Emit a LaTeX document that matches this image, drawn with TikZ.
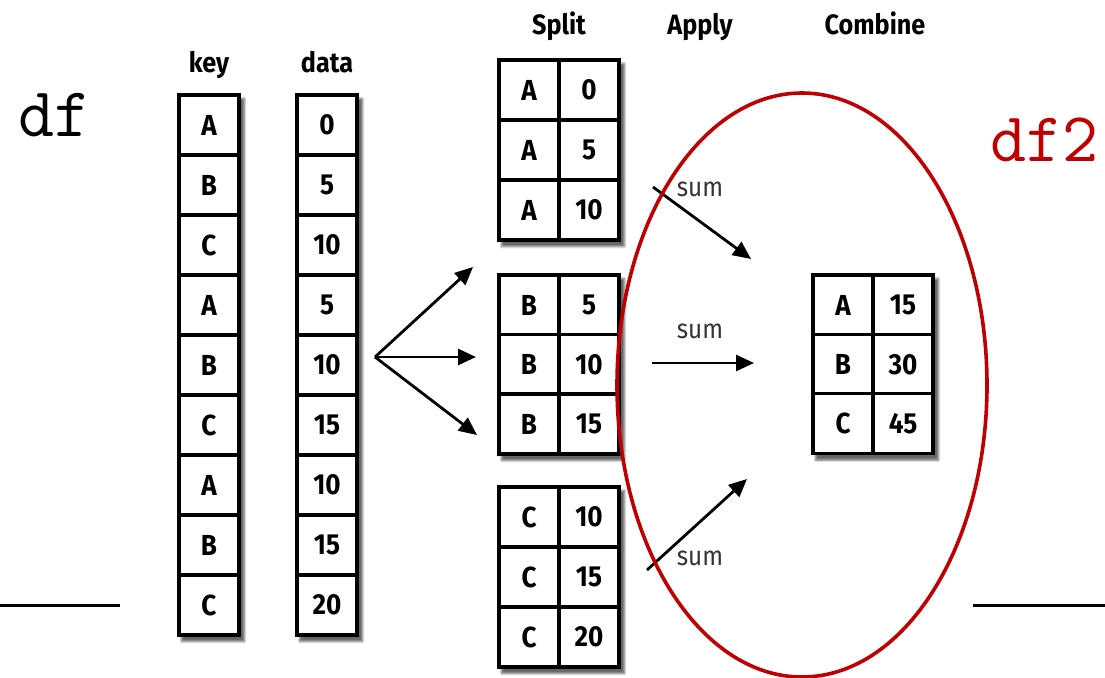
\documentclass[tikz,border=0pt]{standalone}
\usepackage{fontspec}
\setmainfont{Fira Sans}
\newfontfamily\condfam[FakeStretch=0.9]{Fira Sans}
\usetikzlibrary{arrows.meta,shadows.blur,backgrounds,fit}
\definecolor{dfred}{HTML}{C00000}
\tikzset{
  cell/.style={draw, line width=3.2pt, minimum width=60pt, minimum height=60pt, inner sep=0pt, fill=white,
    font=\condfam\fontsize{29}{30}\selectfont\bfseries},
  hdr/.style={anchor=base, inner sep=0pt, font=\condfam\fontsize{28}{30}\selectfont\bfseries},
  sumlbl/.style={anchor=base, inner sep=0pt, font=\condfam\fontsize{27}{30}\selectfont, text=black!80},
  arr/.style={line width=2.8pt, -{Triangle[length=18pt,width=16pt]}},
  tshadow/.style={inner sep=0pt, fill=white, blur shadow={shadow xshift=4pt, shadow yshift=-5pt, shadow blur steps=6, shadow opacity=60}},
  dflbl/.style={anchor=base west, inner sep=0pt, font=\ttfamily\fontsize{70}{70}\selectfont},
  rule/.style={line width=3pt},
}
\begin{document}
\begin{tikzpicture}[x=1pt,y=-1pt]
\useasboundingbox (0,0) rectangle (1105,677);

% labels
\node[dflbl] (df) at (18,136) {df};
\node[dflbl, text=dfred] (dftwo) at (990,161) {df2};
\node[hdr] (hkey) at (209,73) {key};
\node[hdr] (hdata) at (327,73) {data};
\node[hdr] (hsplit) at (559,35) {Split};
\node[hdr] (happly) at (700,35) {Apply};
\node[hdr] (hcomb) at (875,35) {Combine};

% key / data columns
\foreach \k [count=\i] in {A,B,C,A,B,C,A,B,C}
  \node[cell] (k\i) at (209,{125+60*(\i-1)}) {\k};
\foreach \d [count=\i] in {0,5,10,5,10,15,10,15,20}
  \node[cell] (d\i) at (327,{125+60*(\i-1)}) {\d};

% split tables
\foreach \d [count=\i] in {0,5,10} {
  \node[cell] (sa\i) at (529,{90+60*(\i-1)}) {A};
  \node[cell] (sad\i) at (589,{90+60*(\i-1)}) {\d};
}
\foreach \d [count=\i] in {5,10,15} {
  \node[cell] (sb\i) at (529,{305+59.5*(\i-1)}) {B};
  \node[cell] (sbd\i) at (589,{305+59.5*(\i-1)}) {\d};
}
\foreach \d [count=\i] in {10,15,20} {
  \node[cell] (sc\i) at (529,{517+60*(\i-1)}) {C};
  \node[cell] (scd\i) at (589,{517+60*(\i-1)}) {\d};
}
% combine table
\foreach \k/\d [count=\i] in {A/15,B/30,C/45} {
  \node[cell] (ck\i) at (843,{305+59.3*(\i-1)}) {\k};
  \node[cell] (cd\i) at (903,{305+59.3*(\i-1)}) {\d};
}

% shadows
\begin{scope}[on background layer]
  \node[tshadow, fit=(k1)(k9)] (shk) {};
  \node[tshadow, fit=(d1)(d9)] (shd) {};
  \node[tshadow, fit=(sa1)(sad3)] (sha) {};
  \node[tshadow, fit=(sb1)(sbd3)] (shb) {};
  \node[tshadow, fit=(sc1)(scd3)] (shc) {};
  \node[tshadow, fit=(ck1)(cd3)] (shcomb) {};
\end{scope}

% split arrows
\coordinate (fork) at (375,357);
\coordinate (e1) at (473,267);
\coordinate (e2) at (476,357);
\coordinate (e3) at (477,435);
\draw[arr] (fork) -- (e1);
\draw[arr] (fork) -- (e2);
\draw[arr] (fork) -- (e3);

% apply arrows
\coordinate (s1a) at (653,187);
\coordinate (s1b) at (751,259);
\coordinate (s2a) at (652,363);
\coordinate (s2b) at (754,363);
\coordinate (s3a) at (647,570);
\coordinate (s3b) at (747,479);
\draw[arr] (s1a) -- (s1b);
\draw[arr] (s2a) -- (s2b);
\draw[arr] (s3a) -- (s3b);
\node[sumlbl] (sum1) at (700,196) {sum};
\node[sumlbl] (sum2) at (700,338) {sum};
\node[sumlbl] (sum3) at (700,565) {sum};

% ellipse
\draw[dfred, line width=3.6pt] (802,385) ellipse [x radius=185, y radius=292];

% rules
\coordinate (r1a) at (0,605);
\coordinate (r1b) at (120,605);
\coordinate (r2a) at (973,605);
\coordinate (r2b) at (1105,605);
\draw[rule] (r1a) -- (r1b);
\draw[rule] (r2a) -- (r2b);
\end{tikzpicture}
\end{document}
